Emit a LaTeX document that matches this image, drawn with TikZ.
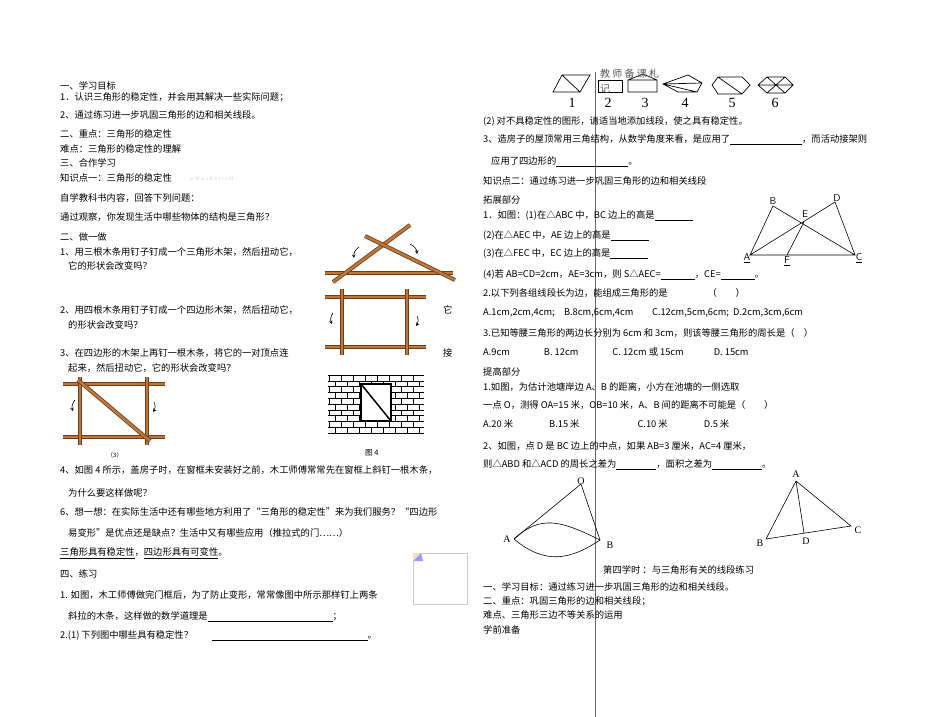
\documentclass[tikz,border=0pt]{standalone}
\usepackage{fontspec}
\newfontfamily\cjk{Noto Sans CJK SC}
\setmainfont{Liberation Serif}
\definecolor{wood}{RGB}{190,120,60}
\definecolor{wooddark}{RGB}{110,60,25}
\tikzset{
 txt/.style={anchor=west,inner sep=0,font=\cjk\fontsize{9.3}{10}\selectfont},
 lbl/.style={inner sep=0,font=\fontsize{10}{11}\selectfont},
 num/.style={inner sep=0,font=\fontsize{14}{15}\selectfont},
 bar/.style={line width=4pt,draw=wooddark},
 barin/.style={line width=2.4pt,draw=wood},
 fig/.style={line width=0.7pt},
 turn/.style={->,>=stealth,line width=0.6pt}
}
\newcommand{\blank}[1]{\underline{\hspace{#1}}}
\newcommand{\woodbar}[2]{\draw[bar] #1 -- #2; \draw[barin] #1 -- #2;}
\begin{document}
\begin{tikzpicture}[x=1pt,y=-1pt]
\useasboundingbox (0,0) rectangle (950,717);
\fill[white] (0,0) rectangle (950,717);
% column rule
\draw[line width=0.8pt,gray!80!black] (595,72) -- (595,717);
% ---------- left column ----------
\node[txt] (l1) at (60,86) {一、学习目标};
\node[txt] (l2) at (60,97) {1．认识三角形的稳定性，并会用其解决一些实际问题；};
\node[txt] (l3) at (60,115) {2、通过练习进一步巩固三角形的边和相关线段。};
\node[txt] (l4) at (60,134) {二、重点：三角形的稳定性};
\node[txt] (l5) at (60,149) {难点：三角形的稳定性的理解};
\node[txt] (l6) at (60,163) {三、合作学习};
\node[txt] (l7) at (60,178) {知识点一：三角形的稳定性};
\node[txt,font=\fontsize{5}{6}\selectfont,text=gray!40] (wm) at (190,179) {w W w x K b 1 c o M};
\node[txt] (l8) at (60,198) {自学教科书内容，回答下列问题：};
\node[txt] (l9) at (60,217) {通过观察，你发现生活中哪些物体的结构是三角形？};
\node[txt] (l10) at (60,237) {二、做一做};
\node[txt] (l11) at (60,252) {1、用三根木条用钉子钉成一个三角形木架，然后扭动它，};
\node[txt] (l12) at (68,266) {它的形状会改变吗？};
\node[txt] (l13) at (60,310) {2、用四根木条用钉子钉成一个四边形木架，然后扭动它，};
\node[txt] (l13b) at (443,310) {它};
\node[txt] (l14) at (68,325) {的形状会改变吗？};
\node[txt] (l15) at (60,353) {3、在四边形的木架上再钉一根木条，将它的一对顶点连};
\node[txt] (l15b) at (443,353) {接};
\node[txt] (l16) at (68,368) {起来，然后扭动它，它的形状会改变吗？};
\node[txt,font=\cjk\fontsize{6}{7}\selectfont] (cap3) at (107,455) {（3）};
\node[txt,font=\cjk\fontsize{7.5}{8}\selectfont] (cap4) at (365,453) {图 4};
\node[txt] (l17) at (60,470) {4、如图 4 所示，盖房子时，在窗框未安装好之前，木工师傅常常先在窗框上斜钉一根木条，};
\node[txt] (l18) at (68,493) {为什么要这样做呢？};
\node[txt] (l19) at (60,512) {6、想一想：在实际生活中还有哪些地方利用了“三角形的稳定性”来为我们服务？“四边形};
\node[txt] (l20) at (68,533) {易变形”是优点还是缺点？生活中又有哪些应用（推拉式的门……）};
\node[txt] (l21) at (60,553) {\underline{三角形具有稳定性}，\underline{四边形具有可变性}。};
\node[txt] (l22) at (60,574) {四、练习};
\node[txt] (l23) at (60,595) {1. 如图，木工师傅做完门框后，为了防止变形，常常像图中所示那样钉上两条};
\node[txt] (l24) at (68,617) {斜拉的木条，这样做的数学道理是\blank{125pt}；};
\node[txt] (l25) at (60,636) {2.(1) 下列图中哪些具有稳定性？\qquad\blank{156pt}。};
% image placeholder
\draw[gray!40] (413,553) rectangle (467,604);
\fill[orange!30] (413,553) -- (421,553) -- (413,561) -- cycle;
\fill[blue!40] (421,553) -- (423,561) -- (413,561) -- cycle;
% ---------- wooden triangle ----------
\woodbar{(325,273)}{(453,273)}
\woodbar{(333,282)}{(410,225)}
\woodbar{(365,236)}{(455,280)}
\draw[turn] (359,247) to[bend right=30] (354,258);
\draw[turn] (410,244) to[bend left=30] (417,254);
% wooden rectangle
\woodbar{(325,297)}{(426,297)}
\woodbar{(325,347)}{(426,347)}
\woodbar{(342,289)}{(342,355)}
\woodbar{(407,289)}{(407,355)}
\draw[turn] (333,313) to[bend right=30] (332,324);
\draw[turn] (417,316) to[bend left=30] (416,326);
% wooden rectangle with diagonal (3)
\woodbar{(63,384)}{(165,384)}
\woodbar{(63,437)}{(165,437)}
\woodbar{(80,377)}{(80,445)}
\woodbar{(147,377)}{(147,445)}
\woodbar{(78,380)}{(150,441)}
\draw[turn] (75,400) to[bend right=30] (73,411);
\draw[turn] (154,402) to[bend left=30] (153,412);
% brick wall
\foreach \i in {0,...,10} {\draw[line width=0.5pt] (328,375+5.8*\i) -- (424,375+5.8*\i);}
\foreach \i in {0,...,9} {
  \pgfmathsetmacro{\yy}{375+5.8*\i}
  \pgfmathsetmacro{\off}{mod(\i,2)*6}
  \foreach \k in {0,...,7} {\draw[line width=0.5pt] (329+\off+12*\k,\yy) -- (329+\off+12*\k,\yy+5.8);}
}
\fill[white] (360,383) rectangle (392,422);
\draw[line width=2.5pt] (361,384) rectangle (391,421);
\draw[line width=1.5pt] (361,384) -- (391,421);
% ---------- right column ----------
\draw[fig] (562,75) -- (590,75) -- (580,92) -- (553,92) -- cycle (562,75) -- (580,92);
\draw[fig] (598,80) rectangle (622,92);
\draw[fig] (628,80) rectangle (657,92) (628,80) -- (643,74) -- (657,80);
\draw[fig] (663,84) -- (688,75) -- (702,83) -- (697,92) -- (678,92) -- cycle (663,84) -- (702,83) (663,84) -- (697,92) (663,84) -- (678,92);
\draw[fig] (712,85) -- (718,77) -- (742,77) -- (750,85) -- (742,94) -- (718,94) -- cycle (718,77) -- (742,94);
\draw[fig] (758,85) -- (767,77) -- (785,77) -- (793,85) -- (785,93) -- (767,93) -- cycle (758,85) -- (793,85) (767,77) -- (785,93) (785,77) -- (767,93);
\node[num] (n1) at (572,103) {1};
\node[num] (n2) at (608,103) {2};
\node[num] (n3) at (645,103) {3};
\node[num] (n4) at (685,103) {4};
\node[num] (n5) at (732,103) {5};
\node[num] (n6) at (775,103) {6};
\node[txt,text=gray!70!black,font=\cjk\fontsize{10}{10}\selectfont] (ov1) at (600,74) {教 师 备 课 札};
\node[txt,text=gray!70!black,font=\cjk\fontsize{10}{10}\selectfont] (ov2) at (600,89) {记};
\node[txt] (r1) at (483,121) {(2) 对不具稳定性的图形，请适当地添加线段，使之具有稳定性。};
\node[txt] (r2) at (483,140) {3、造房子的屋顶常用三角结构，从数学角度来看，是应用了\blank{72pt}，而活动接架则};
\node[txt] (r3) at (491,162) {应用了四边形的\blank{72pt}。};
\node[txt] (r4) at (483,181) {知识点二：通过练习进一步巩固三角形的边和相关线段};
\node[txt] (r5) at (483,200) {拓展部分};
\node[txt] (r6) at (483,216) {1．如图：(1)在△ABC 中，BC 边上的高是\blank{38pt}};
\node[txt] (r7) at (483,236) {(2)在△AEC 中，AE 边上的高是\blank{38pt}};
\node[txt] (r8) at (483,254) {(3)在△FEC 中，EC 边上的高是\blank{38pt}};
\node[txt] (r9) at (483,275) {(4)若 AB=CD=2cm，AE=3cm，则 S△AEC=\blank{34pt}，CE=\blank{34pt}。};
\node[txt] (r10) at (483,293) {2.以下列各组线段长为边，能组成三角形的是\hspace{40pt}（\qquad）};
\node[txt] (r11) at (483,313) {A.1cm,2cm,4cm;\quad B.8cm,6cm,4cm\qquad C.12cm,5cm,6cm;\ \ D.2cm,3cm,6cm};
\node[txt] (r12) at (483,333) {3.已知等腰三角形的两边长分别为 6cm 和 3cm，则该等腰三角形的周长是（\quad）};
\node[txt] (r13) at (483,352) {A.9cm\hspace{34pt}B.\ 12cm\hspace{34pt}C.\ 12cm 或 15cm\hspace{30pt}D.\ 15cm};
\node[txt] (r14) at (483,372) {提高部分};
\node[txt] (r15) at (483,387) {1.如图，为估计池塘岸边 A、B 的距离，小方在池塘的一侧选取};
\node[txt] (r16) at (483,405) {一点 O，测得 OA=15 米，OB=10 米，A、B 间的距离不可能是（\qquad）};
\node[txt] (r17) at (483,424) {A.20 米\hspace{36pt}B.15 米\hspace{58pt}C.10 米\hspace{36pt}D.5 米};
\node[txt] (r18) at (483,446) {2、如图，点 D 是 BC 边上的中点，如果 AB=3 厘米，AC=4 厘米，};
\node[txt] (r19) at (483,465) {则△ABD 和△ACD 的周长之差为\blank{40pt}，面积之差为\blank{50pt}。};
% figure ABCDEF
\coordinate (pA) at (750,255);
\coordinate (pB) at (773,206);
\coordinate (pD) at (835,202);
\coordinate (pE) at (804,222);
\coordinate (pF) at (787,255);
\coordinate (pC) at (855,255);
\draw[line width=0.6pt] (pA) -- (pB) -- (pC) -- (pD) -- (pA) -- (pC) (pF) -- (pE);
\node[lbl,font=\sffamily\fontsize{10}{11}\selectfont] (tA) at (747,258) {\underline{A}};
\node[lbl,font=\sffamily\fontsize{10}{11}\selectfont] (tB) at (773,201) {B};
\node[lbl,font=\sffamily\fontsize{10}{11}\selectfont] (tD) at (837,198) {D};
\node[lbl,font=\sffamily\fontsize{10}{11}\selectfont] (tE) at (805,214) {E};
\node[lbl,font=\sffamily\fontsize{10}{11}\selectfont] (tF) at (787,261) {\underline{F}};
\node[lbl,font=\sffamily\fontsize{10}{11}\selectfont] (tC) at (859,258) {\underline{C}};
% pond figure
\coordinate (qO) at (581,484);
\coordinate (qA) at (514,539);
\coordinate (qB) at (600,540);
\draw[line width=0.6pt] (qA) -- (qO) -- (qB);
\draw[line width=0.6pt] (qA) .. controls (540,515) and (560,520) .. (qB);
\draw[line width=0.6pt] (qA) .. controls (545,565) and (570,560) .. (qB);
\node[lbl] (tO) at (581,481) {O};
\node[lbl] (tqA) at (507,539) {A};
\node[lbl] (tqB) at (610,545) {B};
% triangle ABC with D
\coordinate (sA) at (796,481);
\coordinate (sB) at (766,539);
\coordinate (sC) at (851,526);
\coordinate (sD) at (804,533);
\draw[line width=0.6pt] (sA) -- (sB) -- (sC) -- cycle (sA) -- (sD);
\node[lbl] (tsA) at (796,474) {A};
\node[lbl] (tsB) at (760,543) {B};
\node[lbl] (tsC) at (858,530) {C};
\node[lbl] (tsD) at (806,541) {D};
% lesson 4
\node[txt] (s0) at (603,570) {第四学时 ：与三角形有关的线段练习};
\node[txt] (s1) at (483,587) {一、学习目标：通过练习进一步巩固三角形的边和相关线段。};
\node[txt] (s2) at (483,601) {二、重点：巩固三角形的边和相关线段；};
\node[txt] (s3) at (483,615) {难点、三角形三边不等关系的运用};
\node[txt] (s4) at (483,630) {学前准备};
\end{tikzpicture}
\end{document}
